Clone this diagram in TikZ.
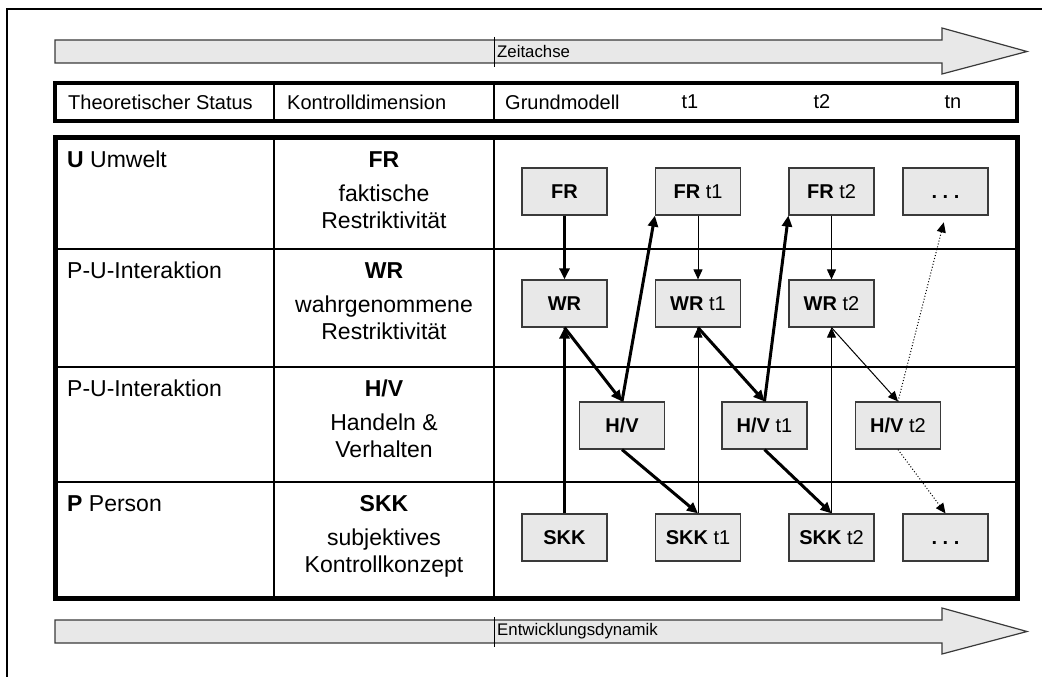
\documentclass[tikz,border=0pt]{standalone}
\usepackage{fontspec}
\setmainfont{Liberation Sans}
\usetikzlibrary{arrows.meta}
\definecolor{boxgray}{HTML}{E8E8E8}
\definecolor{rimgray}{HTML}{3A3A3A}
\tikzset{
  zbox/.style={draw=rimgray,line width=1.2pt,fill=boxgray,minimum width=85pt,
    minimum height=47pt,inner sep=0pt,font=\fontsize{20}{23}\selectfont},
  headtext/.style={inner sep=0pt,font=\fontsize{20}{24}\selectfont},
  celltext/.style={inner sep=0pt,align=center,font=\fontsize{23}{27}\selectfont},
  boldarrow/.style={line width=3pt,-{Triangle[length=11pt,width=10pt]}},
  thinarrow/.style={line width=1pt,-{Triangle[length=10pt,width=9pt]}},
  dotarrow/.style={line width=1pt,dotted,-{Triangle[length=10pt,width=9pt]}}
}
\newcommand\TimeArrow[3]{
  \def\ay{#2}
  \draw[rimgray,line width=1.2pt,fill=boxgray] (55,\ay) -- (942,\ay) -- (942,\ay-12)
    -- (1027,\ay+11.5) -- (942,\ay+34) -- (942,\ay+23) -- (55,\ay+23) -- cycle;
  \draw[line width=1pt] (494,\ay-3) -- (494,\ay+27);
  \node[anchor=west,inner sep=0pt,font=\fontsize{16.8}{19}\selectfont] (#1)
    at (497,\ay+11.5) {#3};
}
\newcommand\moredots{\textbf{.\hspace{5.5pt}.\hspace{5.5pt}.}\vphantom{SKK}}

\begin{document}
\begin{tikzpicture}[x=1pt, y=-1pt]
\useasboundingbox (0,0) rectangle (1042,677);
\draw[line width=1.2pt] (7,677) -- (7,9) -- (1042,9);
\TimeArrow{zeit}{40}{Zeitachse}
\TimeArrow{dyn}{620}{Entwicklungsdynamik}

\draw[line width=4pt] (55,83) rectangle (1017,121);
\foreach \x in {274,494}
{
  \draw[line width=1.5pt] (\x,83) -- (\x,121);
}
\node[headtext,anchor=west] (hstatus) at (68,102) {Theoretischer Status};
\node[headtext,anchor=west] (hdim) at (287,102) {Kontrolldimension};
\node[headtext,anchor=west] (hgrund) at (505,102) {Grundmodell};
\node[headtext] (ht1) at (690,102) {t1};
\node[headtext] (ht2) at (822,102) {t2};
\node[headtext] (htn) at (953,102) {tn};

\draw[line width=5pt] (55,137) rectangle (1017,598);
\foreach \y in {249,367,482}
{
  \draw[line width=2pt] (55,\y) -- (1017,\y);
}
\foreach \x in {274,494}
{
  \draw[line width=1.5pt] (\x,137) -- (\x,598);
}
\node[celltext,anchor=north west] (su) at (67,151) {\textbf{U} Umwelt};
\node[celltext,anchor=north west] (spu1) at (67,262) {P-U-Interaktion};
\node[celltext,anchor=north west] (spu2) at (67,380) {P-U-Interaktion};
\node[celltext,anchor=north west] (sp) at (67,495) {\textbf{P} Person};
\node[celltext,anchor=north] (dfr) at (384,151) {\textbf{FR}\\[7pt]faktische\\Restriktivität};
\node[celltext,anchor=north] (dwr) at (384,262) {\textbf{WR}\\[7pt]wahrgenommene\\Restriktivität};
\node[celltext,anchor=north] (dhv) at (384,380) {\textbf{H/V}\\[7pt]Handeln \&\\Verhalten};
\node[celltext,anchor=north] (dskk) at (384,495) {\textbf{SKK}\\[7pt]subjektives\\Kontrollkonzept};

\node[zbox] (fr0) at (564.5,191.5) {\textbf{FR}};
\node[zbox] (fr1) at (698,191.5) {\textbf{FR} t1};
\node[zbox] (fr2) at (831.5,191.5) {\textbf{FR} t2};
\node[zbox] (frn) at (945.5,191.5) {\moredots};
\node[zbox] (wr0) at (564.5,303.5) {\textbf{WR}};
\node[zbox] (wr1) at (698,303.5) {\textbf{WR} t1};
\node[zbox] (wr2) at (831.5,303.5) {\textbf{WR} t2};
\node[zbox] (hv0) at (622,425.5) {\textbf{H/V}};
\node[zbox] (hv1) at (764.5,425.5) {\textbf{H/V} t1};
\node[zbox] (hv2) at (898,425.5) {\textbf{H/V} t2};
\node[zbox] (skk0) at (564.5,537.5) {\textbf{SKK}};
\node[zbox] (skk1) at (698,537.5) {\textbf{SKK} t1};
\node[zbox] (skk2) at (831.5,537.5) {\textbf{SKK} t2};
\node[zbox] (skkn) at (945.5,537.5) {\moredots};

\draw[boldarrow] (fr0) -- (wr0);
\draw[boldarrow] (skk0) -- (wr0);
\draw[boldarrow] (wr0.south) -- (hv0.north);
\draw[boldarrow] (hv0.north) -- (fr1.south west);
\draw[boldarrow] (hv0.south) -- (skk1.north);
\draw[thinarrow] (fr1) -- (wr1);
\draw[thinarrow] (skk1) -- (wr1);
\draw[boldarrow] (wr1.south) -- (hv1.north);
\draw[boldarrow] (hv1.north) -- (fr2.south west);
\draw[boldarrow] (hv1.south) -- (skk2.north);
\draw[thinarrow] (fr2) -- (wr2);
\draw[thinarrow] (skk2) -- (wr2);
\draw[thinarrow] (wr2.south) -- (hv2.north);
\draw[dotarrow,shorten >=7pt] (hv2.north) -- (frn.south);
\draw[dotarrow] (hv2.south) -- (skkn.north);
\end{tikzpicture}
\end{document}
